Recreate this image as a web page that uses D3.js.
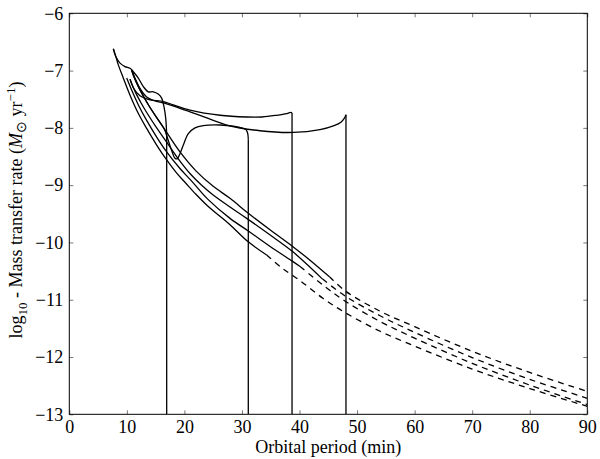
<!DOCTYPE html>
<html>
<head>
<meta charset="utf-8">
<script src="https://d3js.org/d3.v7.min.js"></script>
<style>
  body { margin: 0; background: #fff; }
  text { font-family: "Liberation Serif", "Times New Roman", serif; }
</style>
</head>
<body>
<div id="chart"></div>
<script>
// tracks: [orbital period (min), log10 mass transfer rate]
// long tracks, solid part then dashed continuation
var track1Solid = [[7.65,-6.62],[8.1,-6.76],[8.52,-6.9],[9.38,-7.13],[10.55,-7.43],[12.0,-7.75],[13.44,-8.01],[15.18,-8.3],[16.92,-8.56],[18.66,-8.79],[20.1,-8.95],[22,-9.16],[24,-9.36],[25.9,-9.52],[27.92,-9.69],[31.1,-9.99],[34.29,-10.22]];
var track1Dashed = [[34.29,-10.22],[37,-10.45],[40,-10.66],[44,-10.97],[48,-11.23],[54,-11.55],[60,-11.81],[70,-12.21],[80,-12.55],[90,-12.86]];

var track2Solid = [[9.97,-7.13],[11,-7.38],[12,-7.6],[13.44,-7.87],[15.18,-8.16],[16.92,-8.42],[19.23,-8.71],[21.26,-8.93],[24,-9.24],[27.92,-9.58],[31.1,-9.8],[34.9,-10.07],[38.8,-10.33],[40.1,-10.42]];
var track2Dashed = [[40.1,-10.42],[44,-10.74],[48,-11.03],[54,-11.38],[60,-11.67],[70,-12.11],[80,-12.49],[90,-12.83]];

var track3Solid = [[10.55,-7.15],[11.5,-7.38],[12.5,-7.57],[13.5,-7.74],[15.18,-8.0],[16.92,-8.25],[19.23,-8.58],[21,-8.8],[23,-9.0],[25,-9.17],[27.92,-9.38],[30.82,-9.58],[34.9,-9.87],[38.8,-10.16],[44.0,-10.64]];
var track3Dashed = [[44.0,-10.64],[48,-10.94],[54,-11.28],[60,-11.57],[70,-12.01],[80,-12.39],[90,-12.72]];

var track4Solid = [[10.84,-6.99],[11.2,-7.1],[12,-7.28],[13,-7.47],[14,-7.64],[15.18,-7.82],[16.92,-8.08],[19.23,-8.42],[22,-8.75],[25,-9.02],[27.92,-9.23],[31.1,-9.49],[34.87,-9.78],[38.8,-10.07],[41.82,-10.31],[45.2,-10.6]];
var track4Dashed = [[45.2,-10.6],[48,-10.85],[54,-11.2],[60,-11.47],[70,-11.9],[80,-12.27],[90,-12.6]];

// tracks where mass transfer stops (last point then drop to the axis)
var stopTrack1 = [[7.65,-6.62],[8.1,-6.76],[8.81,-6.87],[9.68,-6.93],[10.55,-6.96],[11.12,-7.02],[11.99,-7.13],[12.86,-7.28],[13.73,-7.37],[14.59,-7.37],[15.46,-7.41],[16.05,-7.48],[16.45,-7.63],[16.75,-7.83],[16.92,-8.12]];
var stopTrack2 = [[10.84,-6.99],[11.2,-7.1],[12,-7.28],[13,-7.47],[14,-7.64],[15.18,-7.82],[16.5,-8.02],[17.2,-8.22],[17.8,-8.4],[18.36,-8.53],[18.76,-8.54],[19.23,-8.45],[19.81,-8.3],[20.68,-8.1],[21.84,-8.0],[23.28,-7.96],[26.18,-7.95],[28.5,-7.97],[30.23,-8.01],[30.69,-8.03],[30.98,-8.09],[31.1,-8.2]];
var stopTrack3 = [[10.55,-7.15],[11.12,-7.3],[12.28,-7.44],[14.02,-7.51],[16.33,-7.54],[18.07,-7.6],[20.97,-7.69],[26.18,-7.78],[30.81,-7.81],[33.5,-7.81],[36.02,-7.78],[37.8,-7.75],[38.5,-7.73],[38.7,-7.74]];
var stopTrack4 = [[10.84,-6.99],[11.41,-7.13],[12.28,-7.31],[13.44,-7.46],[14.89,-7.53],[16.92,-7.58],[20.4,-7.7],[22.7,-7.78],[27.34,-7.95],[33.13,-8.05],[38.92,-8.08],[43.55,-8.03],[46.0,-7.96],[47.2,-7.9],[47.8,-7.83],[48.07,-7.77]];

var xTicks = [0, 10, 20, 30, 40, 50, 60, 70, 80, 90];
var yTicks = [-13, -12, -11, -10, -9, -8, -7, -6];

var svgWidth = 600;
var svgHeight = 459;
var margin = { top: 13.3, right: 12.7, bottom: 44.7, left: 69.3 };
var width = svgWidth - margin.left - margin.right;
var height = svgHeight - margin.top - margin.bottom;

var svg = d3.select("#chart")
  .append("svg")
  .attr("width", svgWidth)
  .attr("height", svgHeight);

var chartGroup = svg.append("g")
  .attr("transform", `translate(${margin.left}, ${margin.top})`);

var xScale = d3.scaleLinear().domain([0, 90]).range([0, width]);
var yScale = d3.scaleLinear().domain([-13, -6]).range([height, 0]);

// clip
svg.append("defs").append("clipPath")
  .attr("id", "plotclip")
  .append("rect")
  .attr("width", width)
  .attr("height", height);

// axes with inward ticks on all four sides
function styleAxis(g) {
  g.attr("font-family", null).attr("font-size", null);
  g.select(".domain").remove();
  g.selectAll(".tick line").attr("stroke", "#555").attr("stroke-width", 0.8);
  g.selectAll(".tick text")
    .attr("fill", "#000")
    .attr("font-family", "Liberation Serif")
    .attr("font-size", 18);
}

var fmt = d3.format("d");

chartGroup.append("g")
  .attr("transform", `translate(0, ${height})`)
  .call(d3.axisBottom(xScale).tickValues(xTicks).tickFormat(fmt).tickSizeInner(-4).tickSizeOuter(0).tickPadding(6))
  .call(styleAxis);

chartGroup.append("g")
  .call(d3.axisTop(xScale).tickValues(xTicks).tickSizeInner(-4).tickSizeOuter(0).tickFormat(""))
  .call(styleAxis);

chartGroup.append("g")
  .call(d3.axisLeft(yScale).tickValues(yTicks).tickFormat(fmt).tickSizeInner(-4).tickSizeOuter(0).tickPadding(6))
  .call(styleAxis);

chartGroup.append("g")
  .attr("transform", `translate(${width}, 0)`)
  .call(d3.axisRight(yScale).tickValues(yTicks).tickSizeInner(-4).tickSizeOuter(0).tickFormat(""))
  .call(styleAxis);

// curves
var line = d3.line()
  .x(d => xScale(d[0]))
  .y(d => yScale(d[1]))
  .curve(d3.curveCatmullRom.alpha(0.5));

var plot = chartGroup.append("g").attr("clip-path", "url(#plotclip)");

[track1Solid, track2Solid, track3Solid, track4Solid].forEach(function(t) {
  plot.append("path")
    .attr("d", line(t))
    .attr("fill", "none")
    .attr("stroke", "#000")
    .attr("stroke-width", 1.3);
});

[track1Dashed, track2Dashed, track3Dashed, track4Dashed].forEach(function(t) {
  plot.append("path")
    .attr("d", line(t))
    .attr("fill", "none")
    .attr("stroke", "#000")
    .attr("stroke-width", 1.3)
    .attr("stroke-dasharray", "6,5");
});

[stopTrack1, stopTrack2, stopTrack3, stopTrack4].forEach(function(t) {
  plot.append("path")
    .attr("d", line(t))
    .attr("fill", "none")
    .attr("stroke", "#000")
    .attr("stroke-width", 1.3);
  // mass transfer stops: straight drop down to the axis
  var last = t[t.length - 1];
  plot.append("path")
    .attr("d", d3.line().x(d => xScale(d[0])).y(d => yScale(d[1]))([last, [last[0], -13]]))
    .attr("fill", "none")
    .attr("stroke", "#000")
    .attr("stroke-width", 1.3);
});

// frame
chartGroup.append("rect")
  .attr("width", width)
  .attr("height", height)
  .attr("fill", "none")
  .attr("stroke", "#000")
  .attr("stroke-width", 1);

// axis labels
svg.append("text")
  .attr("x", margin.left + width / 2)
  .attr("y", 453)
  .attr("text-anchor", "middle")
  .style("font-size", "18px")
  .text("Orbital period (min)");

var ylab = svg.append("text")
  .attr("transform", "translate(22, 210) rotate(-90)")
  .attr("text-anchor", "middle")
  .style("font-size", "18px");
ylab.append("tspan").text("log");
ylab.append("tspan").attr("dy", 5).style("font-size", "13px").text("10");
ylab.append("tspan").attr("dy", -5).text(" - Mass transfer rate (");
ylab.append("tspan").style("font-style", "italic").text("M");
ylab.append("tspan").attr("dy", 4).style("font-size", "14px").text("\u2299");
ylab.append("tspan").attr("dy", -4).text(" yr");
ylab.append("tspan").attr("dy", -7).style("font-size", "13px").text("\u22121");
ylab.append("tspan").attr("dy", 7).text(")");
</script>
</body>
</html>
